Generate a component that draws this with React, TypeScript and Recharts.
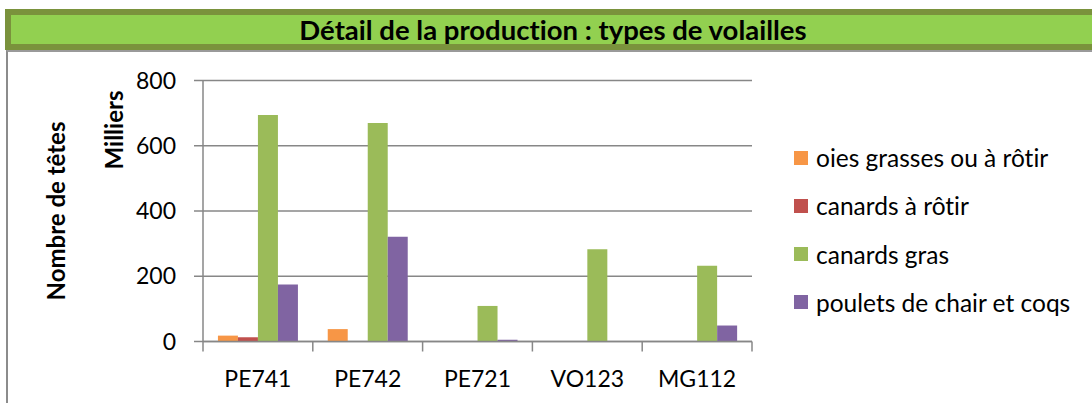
import React from 'react';
import { BarChart, Bar, XAxis, YAxis, CartesianGrid, Legend, Label } from 'recharts';

const categories = ['PE741', 'PE742', 'PE721', 'VO123', 'MG112'];
const oiesGrasses = [18, 38, 0, 0, 0];
const canardsRotir = [13, 0, 0, 0, 0];
const canardsGras = [694, 670, 109, 283, 232];
const poulets = [175, 321, 5, 0, 49];
const yTicks = [0, 200, 400, 600, 800];
const seriesNames = ['oies grasses ou à rôtir', 'canards à rôtir', 'canards gras', 'poulets de chair et coqs'];
const seriesColors = ['#F79646', '#C0504D', '#9BBB59', '#8064A2'];
const titleText = 'Détail de la production : types de volailles';
const yTitle = 'Nombre de têtes';
const yUnit = 'Milliers';

const data = categories.map((c, i) => ({
  cat: c,
  s0: oiesGrasses[i],
  s1: canardsRotir[i],
  s2: canardsGras[i],
  s3: poulets[i],
}));

const FONT = 'Lato, "Open Sans", sans-serif';
const W = 1092;
const H = 403;
const M_TOP = 80.5;
const M_RIGHT = 340;
const Y_W = 203;
const X_H = 61.5;
const X_TICK = 10;
const X_MARGIN = 19;
const GRID = '#878787';
const HALF_BAND = (W - Y_W - M_RIGHT) / categories.length / 2;
const NOLIG = { fontVariantLigatures: 'none' as const };

function XTick(props: any) {
  const { x, y, payload, index, visibleTicksCount } = props;
  const axisY = y - X_TICK - X_MARGIN;
  return (
    <g>
      <line x1={x - HALF_BAND} x2={x - HALF_BAND} y1={axisY} y2={axisY + X_TICK} stroke={GRID} strokeWidth={1.5} />
      {index === visibleTicksCount - 1 && (
        <line x1={x + HALF_BAND} x2={x + HALF_BAND} y1={axisY} y2={axisY + X_TICK} stroke={GRID} strokeWidth={1.5} />
      )}
      <text x={x} y={y} dy="0.71em" textAnchor="middle" fill="#000" fontSize={23} fontFamily={FONT}>
        {payload.value}
      </text>
    </g>
  );
}

function YTitles() {
  return (
    <g fontFamily={FONT} fontWeight="bold" fontSize={24} fill="#000" style={NOLIG}>
      <text x={55} y={211} textAnchor="middle" dominantBaseline="central" transform="rotate(-90 55 211)">
        {yTitle}
      </text>
      <text x={113} y={130} textAnchor="middle" dominantBaseline="central" transform="rotate(-90 113 130)">
        {yUnit}
      </text>
    </g>
  );
}

function LegendContent(props: any) {
  const payload = [...(props.payload || [])].sort(
    (a: any, b: any) => seriesNames.indexOf(a.value) - seriesNames.indexOf(b.value)
  );
  return (
    <div style={{ width: 300, fontFamily: FONT, fontSize: 24.5, color: '#000', ...NOLIG }}>
      {payload.map((p: any, i: number) => (
        <div key={i} style={{ display: 'flex', alignItems: 'center', height: 48.2, whiteSpace: 'nowrap' }}>
          <span style={{ display: 'inline-block', width: 14, height: 14, background: p.color, marginRight: 8, flex: 'none' }} />
          <span>{p.value}</span>
        </div>
      ))}
    </div>
  );
}

export default function App() {
  return (
    <div style={{ position: 'absolute', left: 0, top: 0, width: W, height: H, overflow: 'hidden', background: '#fff' }}>
      <div
        style={{
          position: 'absolute',
          left: 6,
          top: 50,
          width: 1300,
          height: 600,
          borderLeft: '2px solid #8c8c8c',
          borderTop: '2px solid #9a9a9a',
        }}
      />
      <div
        style={{
          position: 'absolute',
          left: 5,
          top: 9,
          width: 1096,
          height: 41,
          boxSizing: 'border-box',
          border: '6px solid #7A923C',
          background: '#92D050',
          textAlign: 'center',
          fontFamily: FONT,
          fontWeight: 'bold',
          fontSize: 27.5,
          lineHeight: '29px',
          color: '#000',
          whiteSpace: 'nowrap',
          ...NOLIG,
        }}
      >
        {titleText}
      </div>
      <div style={{ position: 'absolute', left: 0, top: 0 }}>
        <BarChart
          width={W}
          height={H}
          data={data}
          margin={{ top: M_TOP, right: M_RIGHT, bottom: 0, left: 0 }}
          barCategoryGap="13.6%"
          barGap={0}
        >
          <CartesianGrid vertical={false} stroke={GRID} strokeWidth={1.5} />
          <XAxis
            dataKey="cat"
            height={X_H}
            tick={<XTick />}
            tickLine={false}
            tickSize={X_TICK}
            tickMargin={X_MARGIN}
            axisLine={{ stroke: GRID, strokeWidth: 1.5 }}
            interval={0}
          />
          <YAxis
            width={Y_W}
            domain={[0, 800]}
            ticks={yTicks}
            interval={0}
            tickSize={9}
            tickMargin={18}
            tick={{ fill: '#000', fontSize: 23, fontFamily: FONT }}
            tickLine={{ stroke: GRID, strokeWidth: 1.5 }}
            axisLine={{ stroke: GRID, strokeWidth: 1.5 }}
          >
            <Label content={<YTitles />} />
          </YAxis>
          <Legend
            layout="vertical"
            align="center"
            verticalAlign="middle"
            content={<LegendContent />}
            wrapperStyle={{ left: 794, top: 133.7, width: 300 }}
          />
          <Bar dataKey="s0" name={seriesNames[0]} fill={seriesColors[0]} isAnimationActive={false} />
          <Bar dataKey="s1" name={seriesNames[1]} fill={seriesColors[1]} isAnimationActive={false} />
          <Bar dataKey="s2" name={seriesNames[2]} fill={seriesColors[2]} isAnimationActive={false} />
          <Bar dataKey="s3" name={seriesNames[3]} fill={seriesColors[3]} isAnimationActive={false} />
        </BarChart>
      </div>
    </div>
  );
}
